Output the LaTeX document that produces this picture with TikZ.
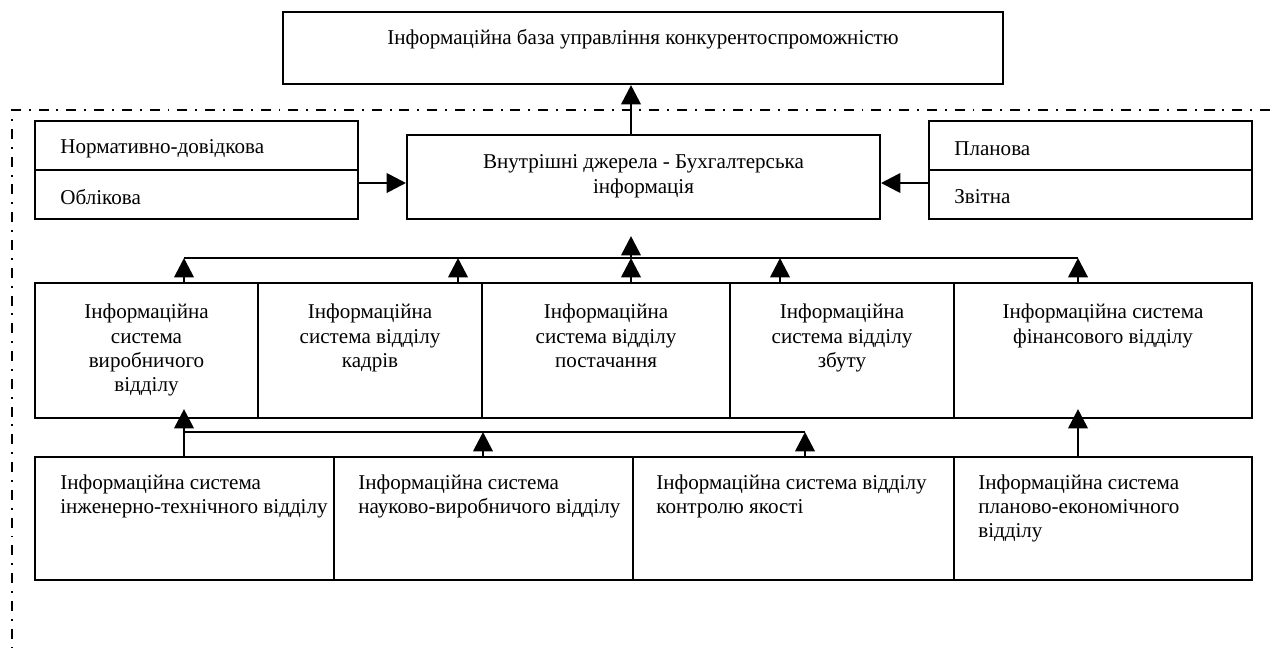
\documentclass[tikz,border=0pt]{standalone}
\usepackage{fontspec}
\setmainfont{Liberation Serif}
\usetikzlibrary{arrows.meta,positioning}
\tikzstyle{bx}=[draw, line width=1.2pt, inner sep=0pt]
\tikzstyle{txt}=[inner sep=0pt, align=center, font=\fontsize{12}{13.8}\selectfont]
\tikzstyle{ltxt}=[inner sep=0pt, align=left, font=\fontsize{12}{13.8}\selectfont]
\tikzstyle{arr}=[-{Triangle[length=11pt,width=11pt]}, line width=1.6pt]
\tikzstyle{bus}=[line width=1.2pt]
\tikzstyle{frm}=[line width=1.4pt, dash pattern=on 5.7pt off 4.5pt on 1.1pt off 4.5pt]

\begin{document}
\begin{tikzpicture}[x=0.02cm, y=-0.02cm]
\useasboundingbox (0,0) rectangle (1270,653);
 % frame
 \draw[frm] (1270,110) -- (12,110) -- (12,653);
 % top levels
 \node[bx, minimum width=14.4cm, minimum height=1.44cm] (base) at (643,48) {};
 \node[txt, below=0.36cm of base.north] (basetxt) {Інформаційна база управління конкурентоспроможністю};
 \node[bx, minimum width=9.46cm, minimum height=1.68cm] (mid) at (643.5,177) {};
 \node[txt, below=0.41cm of mid.north] (midtxt) {Внутрішні джерела - Бухгалтерська\\інформація};
 \node[bx, minimum width=6.46cm, minimum height=0.98cm] (lboxa) at (196.5,145.5) {};
 \node[bx, minimum width=6.46cm, minimum height=0.98cm] (lboxb) at (196.5,194.5) {};
 \node[ltxt, right=0.52cm of lboxa.west, yshift=-0.07cm] (lboxatxt) {Нормативно-довідкова};
 \node[ltxt, right=0.52cm of lboxb.west, yshift=-0.05cm] (lboxbtxt) {Облікова};
 \node[bx, minimum width=6.46cm, minimum height=0.98cm] (rboxa) at (1090.5,145.5) {};
 \node[bx, minimum width=6.46cm, minimum height=0.98cm] (rboxb) at (1090.5,194.5) {};
 \node[ltxt, right=0.52cm of rboxa.west, yshift=-0.07cm] (rboxatxt) {Планова};
 \node[ltxt, right=0.52cm of rboxb.west, yshift=-0.05cm] (rboxbtxt) {Звітна};
 % row 2
 \node[bx, minimum width=4.46cm, minimum height=2.7cm] (r2a) at (146.5,350.5) {};
 \node[bx, minimum width=4.48cm, minimum height=2.7cm] (r2b) at (370,350.5) {};
 \node[bx, minimum width=4.96cm, minimum height=2.7cm] (r2c) at (606,350.5) {};
 \node[bx, minimum width=4.48cm, minimum height=2.7cm] (r2d) at (842,350.5) {};
 \node[bx, minimum width=5.96cm, minimum height=2.7cm] (r2e) at (1103,350.5) {};
 \node[txt, below=0.44cm of r2a.north] (r2atxt) {Інформаційна\\система\\виробничого\\відділу};
 \node[txt, below=0.44cm of r2b.north] (r2btxt) {Інформаційна\\система відділу\\кадрів};
 \node[txt, below=0.44cm of r2c.north] (r2ctxt) {Інформаційна\\система відділу\\постачання};
 \node[txt, below=0.44cm of r2d.north] (r2dtxt) {Інформаційна\\система відділу\\збуту};
 \node[txt, below=0.44cm of r2e.north] (r2etxt) {Інформаційна система\\фінансового відділу};
 % row 3
 \node[bx, minimum width=5.98cm, minimum height=2.46cm] (r3a) at (184.5,518.5) {};
 \node[bx, minimum width=5.98cm, minimum height=2.46cm] (r3b) at (483.5,518.5) {};
 \node[bx, minimum width=6.42cm, minimum height=2.46cm] (r3c) at (793.5,518.5) {};
 \node[bx, minimum width=5.96cm, minimum height=2.46cm] (r3d) at (1103,518.5) {};
 \node[ltxt, below right=0.37cm and 0.52cm of r3a.north west] (r3atxt) {Інформаційна система\\інженерно-технічного відділу};
 \node[ltxt, below right=0.37cm and 0.5cm of r3b.north west] (r3btxt) {Інформаційна система\\науково-виробничого відділу};
 \node[ltxt, below right=0.37cm and 0.48cm of r3c.north west] (r3ctxt) {Інформаційна система відділу\\контролю якості};
 \node[ltxt, below right=0.37cm and 0.5cm of r3d.north west] (r3dtxt) {Інформаційна система\\планово-економічного\\відділу};
 % columns and buses
 \coordinate (ca) at (184,0);
 \coordinate (cb) at (458,0);
 \coordinate (cc) at (631,0);
 \coordinate (cd) at (780,0);
 \coordinate (ce) at (1078,0);
 \coordinate (cf) at (483,0);
 \coordinate (cg) at (805,0);
 \coordinate (ub) at (0,258);
 \coordinate (lb) at (0,432);
 \coordinate (ay) at (0,183);
 \draw[bus] (ub -| ca) -- (ub -| ce);
 \draw[bus] (lb -| ca) -- (lb -| cg);
 \path[arr]
   (mid.north -| cc) edge (base.south -| cc)
   (lboxb.east |- ay) edge (mid.west |- ay)
   (rboxb.west |- ay) edge (mid.east |- ay)
   (r2a.north -| ca) edge (ub -| ca)
   (r2b.north -| cb) edge (ub -| cb)
   (r2c.north -| cc) edge (ub -| cc)
   (r2d.north -| cd) edge (ub -| cd)
   (r2e.north -| ce) edge (ub -| ce)
   (r3b.north -| cf) edge (lb -| cf)
   (r3c.north -| cg) edge (lb -| cg);
 \path[arr, shorten >=0.32cm]
   (ub -| cc) edge (mid.south -| cc);
 \path[arr, shorten >=-0.2cm]
   (r3a.north -| ca) edge (r2a.south -| ca)
   (r3d.north -| ce) edge (r2e.south -| ce);
\end{tikzpicture}
\end{document}
